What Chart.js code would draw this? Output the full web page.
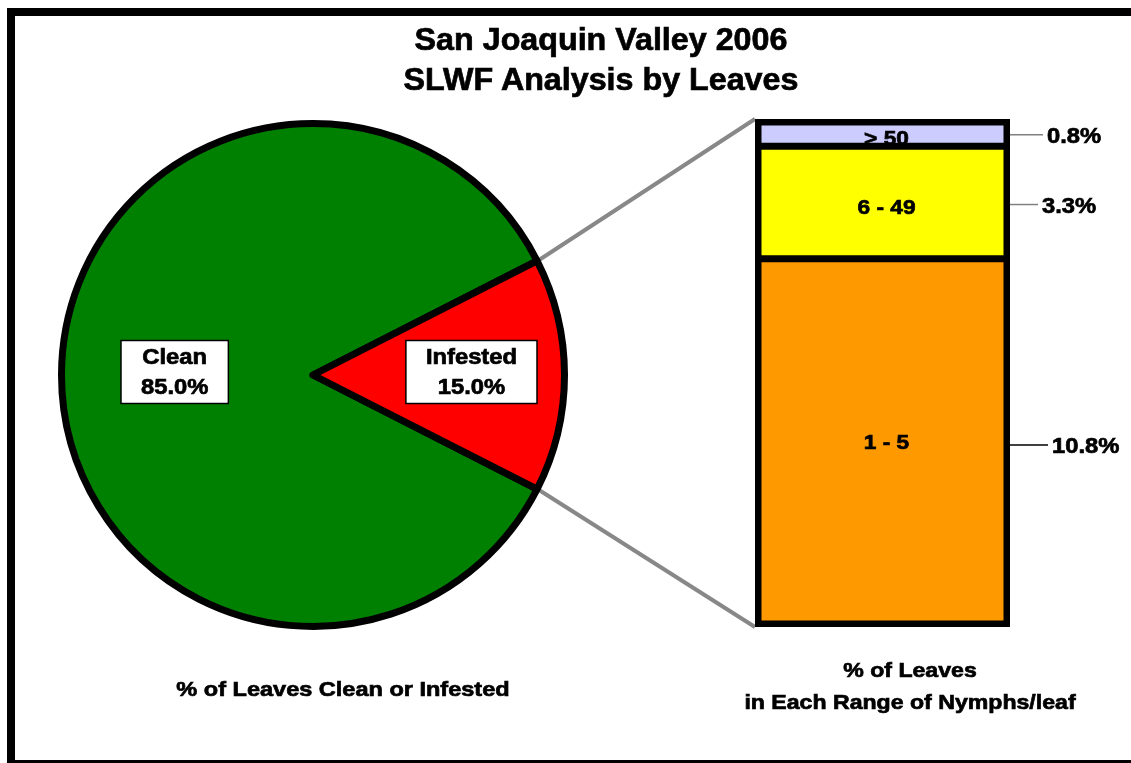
<!DOCTYPE html>
<html>
<head>
<meta charset="utf-8">
<script src="https://cdn.jsdelivr.net/npm/chart.js@4.4.0/dist/chart.umd.min.js"></script>
<style>
    body {
        margin: 0;
        width: 1131px;
        height: 763px;
        overflow: hidden;
        background: #fff;
        position: relative;
        font-family: "Liberation Sans", Arial, sans-serif;
    }
    #frame {
        position: absolute;
        left: 7px;
        top: 8px;
        width: 1200px;
        height: 744px;
        border: 8px solid #000;
    }
    canvas {
        position: absolute;
    }
    .txt {
        position: absolute;
        width: 600px;
        text-align: center;
        font-weight: bold;
        color: #000;
        -webkit-text-stroke: 0.7px #000;
        transform-origin: 50% 50%;
        white-space: nowrap;
    }
</style>
</head>
<body>
<div id="frame"></div>
<canvas id="links" width="1131" height="763" style="left:0;top:0"></canvas>
<canvas id="pie" width="540" height="540" style="left:43px;top:105px"></canvas>
<canvas id="bar" width="391" height="545" style="left:740px;top:105px"></canvas>
<div class="txt" style="left:301px;top:20px;font-size:31px;line-height:39.5px;transform:scaleX(1.04)">San Joaquin Valley 2006<br>SLWF Analysis by Leaves</div>
<div class="txt" style="left:43px;top:674px;font-size:21px;line-height:30px;transform:scaleX(1.12)">% of Leaves Clean or Infested</div>
<div class="txt" style="left:610px;top:654px;font-size:21px;line-height:32px;transform:scaleX(1.1)">% of Leaves<br>in Each Range of Nymphs/leaf</div>

<script>
    // data
    const pieCategories = ["Clean", "Infested"];
    const pieValues = [85.0, 15.0];
    const pieColors = ["#008000", "#FF0000"];

    const rangeLabels = ["1 - 5", "6 - 49", "> 50"];
    const rangeValues = [10.8, 3.3, 0.8];
    const rangeColors = ["#FF9900", "#FFFF00", "#CCCCFF"];

    const FONT = '"Liberation Sans", Arial, sans-serif';

    // bold text, a bit wider and heavier like the original
    function stretchedText(ctx, text, x, y, sx) {
        ctx.save();
        ctx.translate(x, y);
        ctx.scale(sx, 1);
        ctx.lineWidth = 0.7;
        ctx.strokeStyle = "#000";
        ctx.fillText(text, 0, 0);
        ctx.strokeText(text, 0, 0);
        ctx.restore();
    }

    // white boxed labels on the pie slices
    const pieLabels = {
        id: "pieLabels",
        afterDatasetsDraw(chart, args, opts) {
            const ctx = chart.ctx;
            const meta = chart.getDatasetMeta(0);
            meta.data.forEach((arc, i) => {
                const p = arc.getProps(["x", "y", "startAngle", "endAngle", "outerRadius"], true);
                const mid = (p.startAngle + p.endAngle) / 2;
                const r = p.outerRadius * opts.dist[i];
                const cx = p.x + Math.cos(mid) * r;
                const cy = p.y + Math.sin(mid) * r - 3;
                const lines = [chart.data.labels[i], chart.data.datasets[0].data[i].toFixed(1) + "%"];

                ctx.save();
                ctx.font = "bold 22px " + FONT;
                const w = Math.max(...lines.map(t => ctx.measureText(t).width)) * 1.08 + 40;
                const h = 63;
                ctx.fillStyle = "#fff";
                ctx.strokeStyle = "#000";
                ctx.lineWidth = 1.5;
                ctx.fillRect(cx - w / 2, cy - h / 2, w, h);
                ctx.strokeRect(cx - w / 2, cy - h / 2, w, h);
                ctx.fillStyle = "#000";
                ctx.textAlign = "center";
                ctx.textBaseline = "middle";
                stretchedText(ctx, lines[0], cx, cy - 14, 1.08);
                stretchedText(ctx, lines[1], cx, cy + 16, 1.08);
                ctx.restore();
            });
        },
    };

    // range names inside the stacked bar, percentages with leader lines on the right
    const barLabels = {
        id: "barLabels",
        afterDatasetsDraw(chart, args, opts) {
            const ctx = chart.ctx;
            chart.data.datasets.forEach((ds, i) => {
                const bar = chart.getDatasetMeta(i).data[0];
                const {x, y, base, width} = bar.getProps(["x", "y", "base", "width"], true);
                const mid = (y + base) / 2;
                ctx.save();
                ctx.fillStyle = "#000";
                ctx.textBaseline = "middle";
                ctx.font = "bold 21px " + FONT;
                ctx.textAlign = "center";
                stretchedText(ctx, ds.label, x + 4, mid + opts.nameShift[i], 1.08);

                const right = x + width / 2;
                const len = opts.leader[i];
                ctx.strokeStyle = opts.leaderColor[i];
                ctx.lineWidth = 1.5;
                ctx.beginPath();
                ctx.moveTo(right, mid + 2);
                ctx.lineTo(right + len, mid + 2);
                ctx.stroke();

                ctx.font = "bold 22px " + FONT;
                ctx.textAlign = "left";
                stretchedText(ctx, ds.data[0].toFixed(1) + "%", right + len + 4, mid + 4, 1.08);
                ctx.restore();
            });
        },
    };

    const pieChart = new Chart(document.getElementById("pie"), {
        type: "pie",
        data: {
            labels: pieCategories,
            datasets: [
                {
                    data: pieValues,
                    backgroundColor: pieColors,
                    borderColor: "#000",
                    borderWidth: 7,
                    borderJoinStyle: "round",
                },
            ],
        },
        options: {
            responsive: false,
            animation: false,
            devicePixelRatio: 1,
            radius: 251.5,
            rotation: 117,
            layout: {padding: 0},
            plugins: {
                legend: {display: false},
                tooltip: {enabled: false},
                pieLabels: {dist: [0.55, 0.63]},
            },
        },
        plugins: [pieLabels],
    });

    const lastIdx = rangeValues.length - 1;
    const barChart = new Chart(document.getElementById("bar"), {
        type: "bar",
        data: {
            labels: [""],
            datasets: rangeLabels.map((name, i) => ({
                label: name,
                data: [rangeValues[i]],
                backgroundColor: rangeColors[i],
                borderColor: "#000",
                borderSkipped: false,
                inflateAmount: 0.5,
                borderWidth: {
                    left: 7,
                    right: 7,
                    top: i === lastIdx ? 7 : 4,
                    bottom: i === 0 ? 7 : 4,
                },
                barPercentage: 1,
                categoryPercentage: 1,
            })),
        },
        options: {
            responsive: false,
            animation: false,
            devicePixelRatio: 1,
            layout: {padding: {left: 15, top: 14, right: 121, bottom: 23}},
            scales: {
                x: {stacked: true, display: false},
                y: {
                    stacked: true,
                    display: false,
                    min: 0,
                    max: rangeValues.reduce((a, b) => a + b, 0),
                },
            },
            plugins: {
                legend: {display: false},
                tooltip: {enabled: false},
                barLabels: {
                    leader: [38, 28, 33],
                    leaderColor: ["#000", "#808080", "#808080"],
                    nameShift: [0, 6, 7],
                },
            },
        },
        plugins: [barLabels],
    });

    // grey lines joining the infested slice to the bar
    function drawLinks() {
        const ctx = document.getElementById("links").getContext("2d");
        const pieBox = {x: 43, y: 105};
        const barBox = {x: 740, y: 105};

        const arc = pieChart.getDatasetMeta(0).data[1].getProps(
            ["x", "y", "startAngle", "endAngle", "outerRadius"], true);
        const r = arc.outerRadius + 3.5;
        const p1 = {
            x: pieBox.x + arc.x + Math.cos(arc.startAngle) * r,
            y: pieBox.y + arc.y + Math.sin(arc.startAngle) * r,
        };
        const p2 = {
            x: pieBox.x + arc.x + Math.cos(arc.endAngle) * r,
            y: pieBox.y + arc.y + Math.sin(arc.endAngle) * r,
        };

        const top = barChart.getDatasetMeta(lastIdx).data[0].getProps(["x", "y", "width"], true);
        const bottom = barChart.getDatasetMeta(0).data[0].getProps(["x", "base", "width"], true);
        const q1 = {x: barBox.x + top.x - top.width / 2, y: barBox.y + top.y};
        const q2 = {x: barBox.x + bottom.x - bottom.width / 2, y: barBox.y + bottom.base};

        ctx.strokeStyle = "#888";
        ctx.lineWidth = 4;
        ctx.beginPath();
        ctx.moveTo(p1.x, p1.y);
        ctx.lineTo(q1.x, q1.y);
        ctx.moveTo(p2.x, p2.y);
        ctx.lineTo(q2.x, q2.y);
        ctx.stroke();
    }

    drawLinks();
</script>
</body>
</html>
